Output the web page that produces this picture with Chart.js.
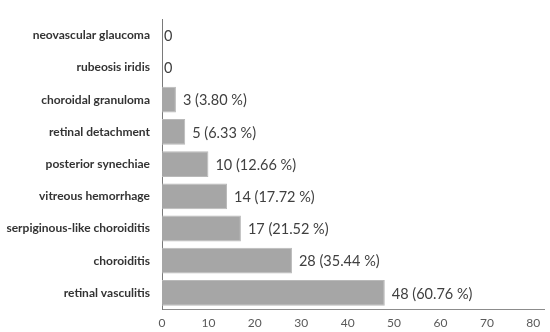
<!DOCTYPE html>
<html>
<head>
<meta charset="utf-8">
<script src="https://cdn.jsdelivr.net/npm/chart.js@4/dist/chart.umd.min.js"></script>
<style>
  html, body { margin: 0; padding: 0; background: #fff; }
  #wrap { width: 550px; height: 332px; }
</style>
</head>
<body>
<div id="wrap"><canvas id="myChart" width="550" height="332"></canvas></div>
<script>
// chart data, top to bottom
var categories = ['neovascular glaucoma', 'rubeosis iridis', 'choroidal granuloma', 'retinal detachment',
  'posterior synechiae', 'vitreous hemorrhage', 'serpiginous-like choroiditis', 'choroiditis', 'retinal vasculitis'];
var counts = [0, 0, 3, 5, 10, 14, 17, 28, 48];
var percents = ['', '', '3.80', '6.33', '12.66', '17.72', '21.52', '35.44', '60.76'];
var xTicks = [0, 10, 20, 30, 40, 50, 60, 70, 80];

// value labels at the bar ends
var barLabels = {
  id: 'barLabels',
  afterDatasetsDraw: function(chart) {
    var ctx = chart.ctx;
    var meta = chart.getDatasetMeta(0);
    ctx.save();
    ctx.font = '14.5px Lato';
    ctx.fillStyle = '#404040';
    ctx.textAlign = 'left';
    ctx.textBaseline = 'middle';
    meta.data.forEach(function(bar, i) {
      var txt = counts[i] === 0 ? '0' : counts[i] + ' (' + percents[i] + ' %)';
      var off = counts[i] === 0 ? 2 : 7;
      ctx.fillText(txt, bar.x + off, bar.y + 1);
    });
    ctx.restore();
  }
};

var ctx = document.getElementById('myChart').getContext('2d');
var myChart = new Chart(ctx, {
  type: 'bar',
  data: {
    labels: categories,
    datasets: [{
      data: counts,
      backgroundColor: '#a6a6a6',
      borderColor: '#b9b9b9',
      borderWidth: 1,
      barPercentage: 0.8,
      categoryPercentage: 1
    }]
  },
  options: {
    indexAxis: 'y',
    responsive: false,
    animation: false,
    layout: { padding: { top: 4, right: 6, left: 0, bottom: 0 } },
    plugins: {
      legend: { display: false },
      tooltip: { enabled: false }
    },
    scales: {
      x: {
        min: 0,
        max: 82.3,
        afterBuildTicks: function(scale) {
          scale.ticks = xTicks.map(function(v) { return { value: v }; });
        },
        afterFit: function(scale) { scale.height = 23; },
        grid: { display: false, drawTicks: false },
        border: { color: '#8c8c8c', width: 1 },
        ticks: { color: '#595959', font: { family: 'Lato', size: 12 }, padding: 7, maxRotation: 0 }
      },
      y: {
        afterFit: function(scale) { scale.width = 162; },
        grid: { display: false, drawTicks: false },
        border: { color: '#7a7a7a', width: 1 },
        ticks: { color: '#333333', font: { family: 'Lato', size: 12, weight: 'bold' }, padding: 12 }
      }
    }
  },
  plugins: [barLabels]
});
</script>
</body>
</html>
